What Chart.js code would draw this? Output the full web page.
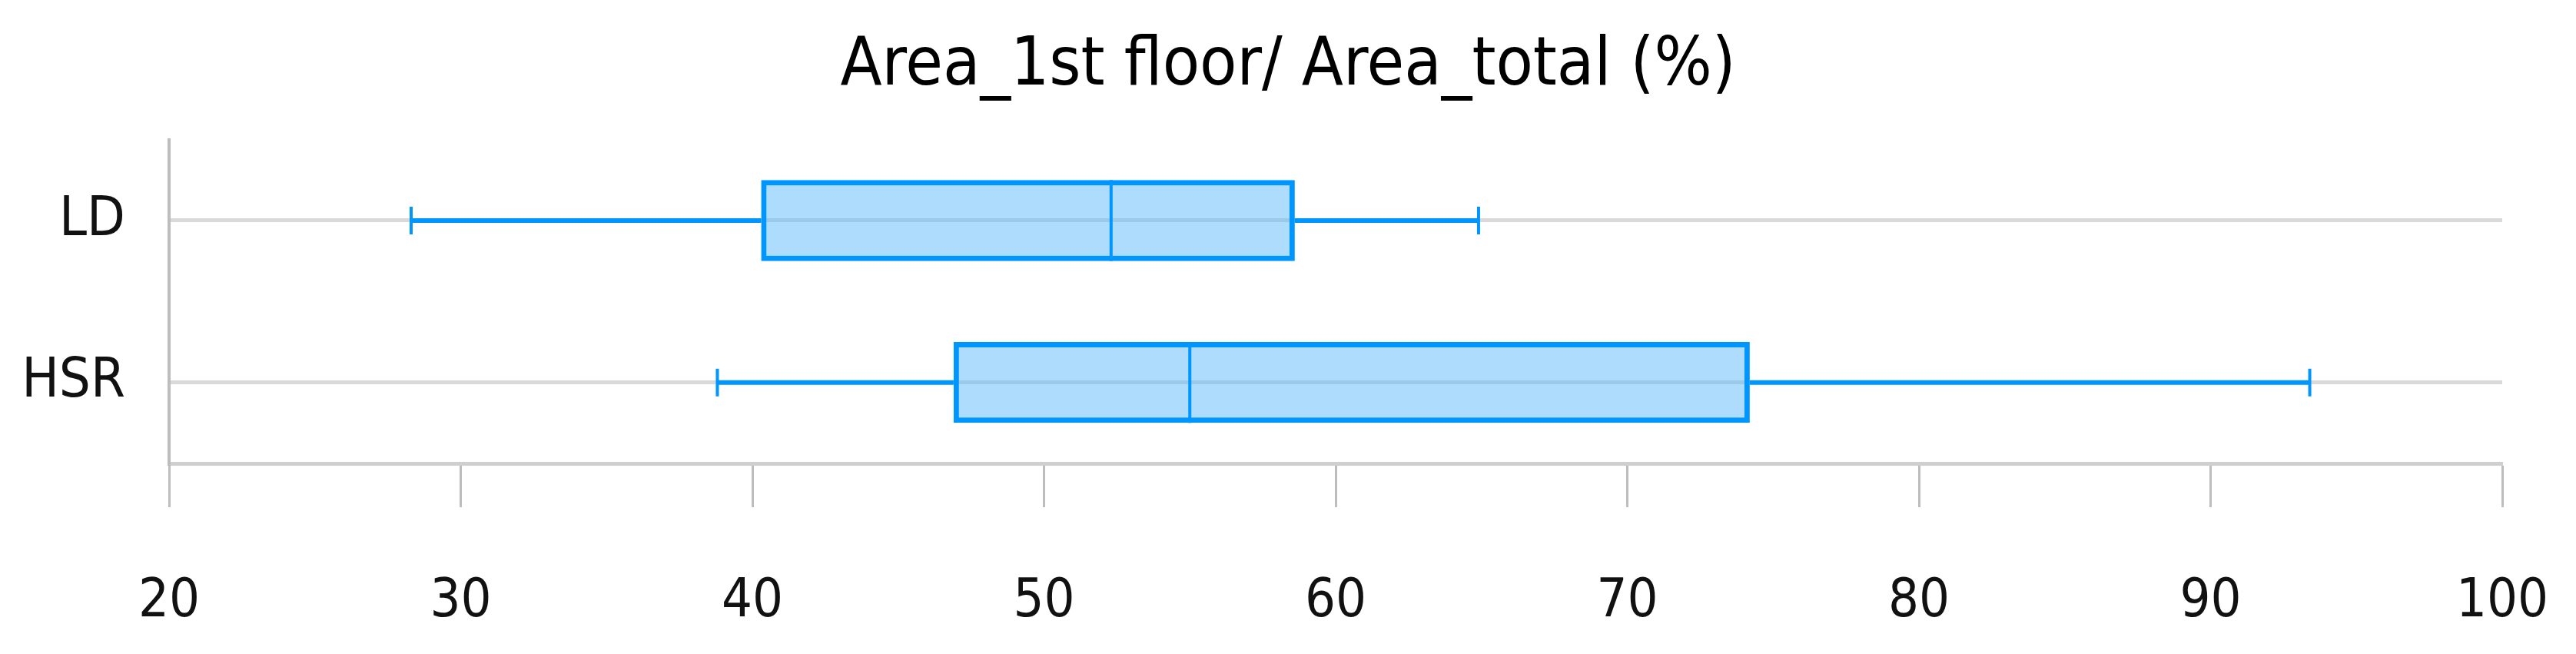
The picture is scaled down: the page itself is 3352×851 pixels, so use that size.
<!DOCTYPE html>
<html>
<head>
<meta charset="utf-8">
<script src="https://cdn.jsdelivr.net/npm/chart.js@4/dist/chart.umd.min.js"></script>
<style>
  html, body { margin: 0; padding: 0; background: #fff; }
  #wrap { width: 3352px; height: 851px; }
</style>
</head>
<body>
<div id="wrap"><canvas id="boxChart"></canvas></div>
<script>
// values
const categories = ['LD', 'HSR'];
const whiskerMin = [28.3, 38.8];
const quartile1 = [40.3, 46.9];
const medians = [52.3, 55.0];
const quartile3 = [58.6, 74.2];
const whiskerMax = [64.9, 93.4];
const xTicks = [20, 30, 40, 50, 60, 70, 80, 90, 100];

const FONT = '"Liberation Sans Narrow", "DejaVu Sans Condensed", "Open Sans", sans-serif';
const BLUE = '#0096ff';

// whiskers, caps and median line, placed with the chart's own scales
const boxWhiskers = {
  id: 'boxWhiskers',
  afterDatasetsDraw(chart) {
    const { ctx, scales: { x, y } } = chart;
    const meta = chart.getDatasetMeta(0);
    ctx.save();
    ctx.strokeStyle = BLUE;
    categories.forEach((cat, i) => {
      const yc = y.getPixelForValue(i);
      const h = meta.data[i].getProps(['height'], true).height;

      ctx.lineWidth = 6;
      ctx.beginPath();
      ctx.moveTo(x.getPixelForValue(whiskerMin[i]), yc);
      ctx.lineTo(x.getPixelForValue(quartile1[i]), yc);
      ctx.moveTo(x.getPixelForValue(quartile3[i]), yc);
      ctx.lineTo(x.getPixelForValue(whiskerMax[i]), yc);
      ctx.stroke();

      ctx.lineWidth = 4;
      ctx.beginPath();
      [whiskerMin[i], whiskerMax[i]].forEach(v => {
        const px = x.getPixelForValue(v);
        ctx.moveTo(px, yc - 18);
        ctx.lineTo(px, yc + 18);
      });
      ctx.stroke();

      ctx.lineWidth = 4;
      ctx.beginPath();
      const mx = x.getPixelForValue(medians[i]);
      ctx.moveTo(mx, yc - h / 2);
      ctx.lineTo(mx, yc + h / 2);
      ctx.stroke();
    });
    ctx.restore();
  }
};

const ctx = document.getElementById('boxChart').getContext('2d');
new Chart(ctx, {
  type: 'bar',
  data: {
    labels: categories,
    datasets: [{
      label: 'Area_1st floor/ Area_total',
      data: quartile1.map((q, i) => [q, quartile3[i]]),
      backgroundColor: 'rgba(91, 185, 249, 0.5)',
      borderColor: BLUE,
      borderWidth: 7,
      borderSkipped: false,
      categoryPercentage: 1,
      barPercentage: 0.5
    }]
  },
  options: {
    indexAxis: 'y',
    responsive: true,
    maintainAspectRatio: false,
    animation: false,
    layout: { padding: 0 },
    plugins: {
      legend: { display: false },
      tooltip: { enabled: false },
      title: {
        display: true,
        text: 'Area_1st floor/ Area_total (%)',
        color: '#000',
        font: { family: FONT, size: 88, weight: 'normal', lineHeight: 1.2 },
        padding: { top: 34, bottom: 42 }
      }
    },
    scales: {
      x: {
        type: 'linear',
        min: 20,
        max: 100,
        afterBuildTicks: axis => { axis.ticks = xTicks.map(v => ({ value: v })); },
        afterFit: axis => {
          axis.height = 248;
          axis.paddingLeft = 0;
          axis.paddingRight = 96;
        },
        grid: {
          drawOnChartArea: false,
          drawTicks: true,
          tickLength: 57,
          tickWidth: 3,
          tickColor: '#bdbdbd'
        },
        border: { display: true, color: '#cfcfcf', width: 5 },
        ticks: {
          color: '#111',
          padding: 82,
          maxRotation: 0,
          font: { family: FONT, size: 70 }
        }
      },
      y: {
        type: 'category',
        afterFit: axis => { axis.width = 220; },
        grid: {
          offset: false,
          drawTicks: false,
          color: '#d9d9d9',
          lineWidth: 5
        },
        border: { display: true, color: '#bdbdbd', width: 4 },
        ticks: {
          color: '#111',
          padding: 57,
          font: { family: FONT, size: 72 }
        }
      }
    }
  },
  plugins: [boxWhiskers]
});
</script>
</body>
</html>
